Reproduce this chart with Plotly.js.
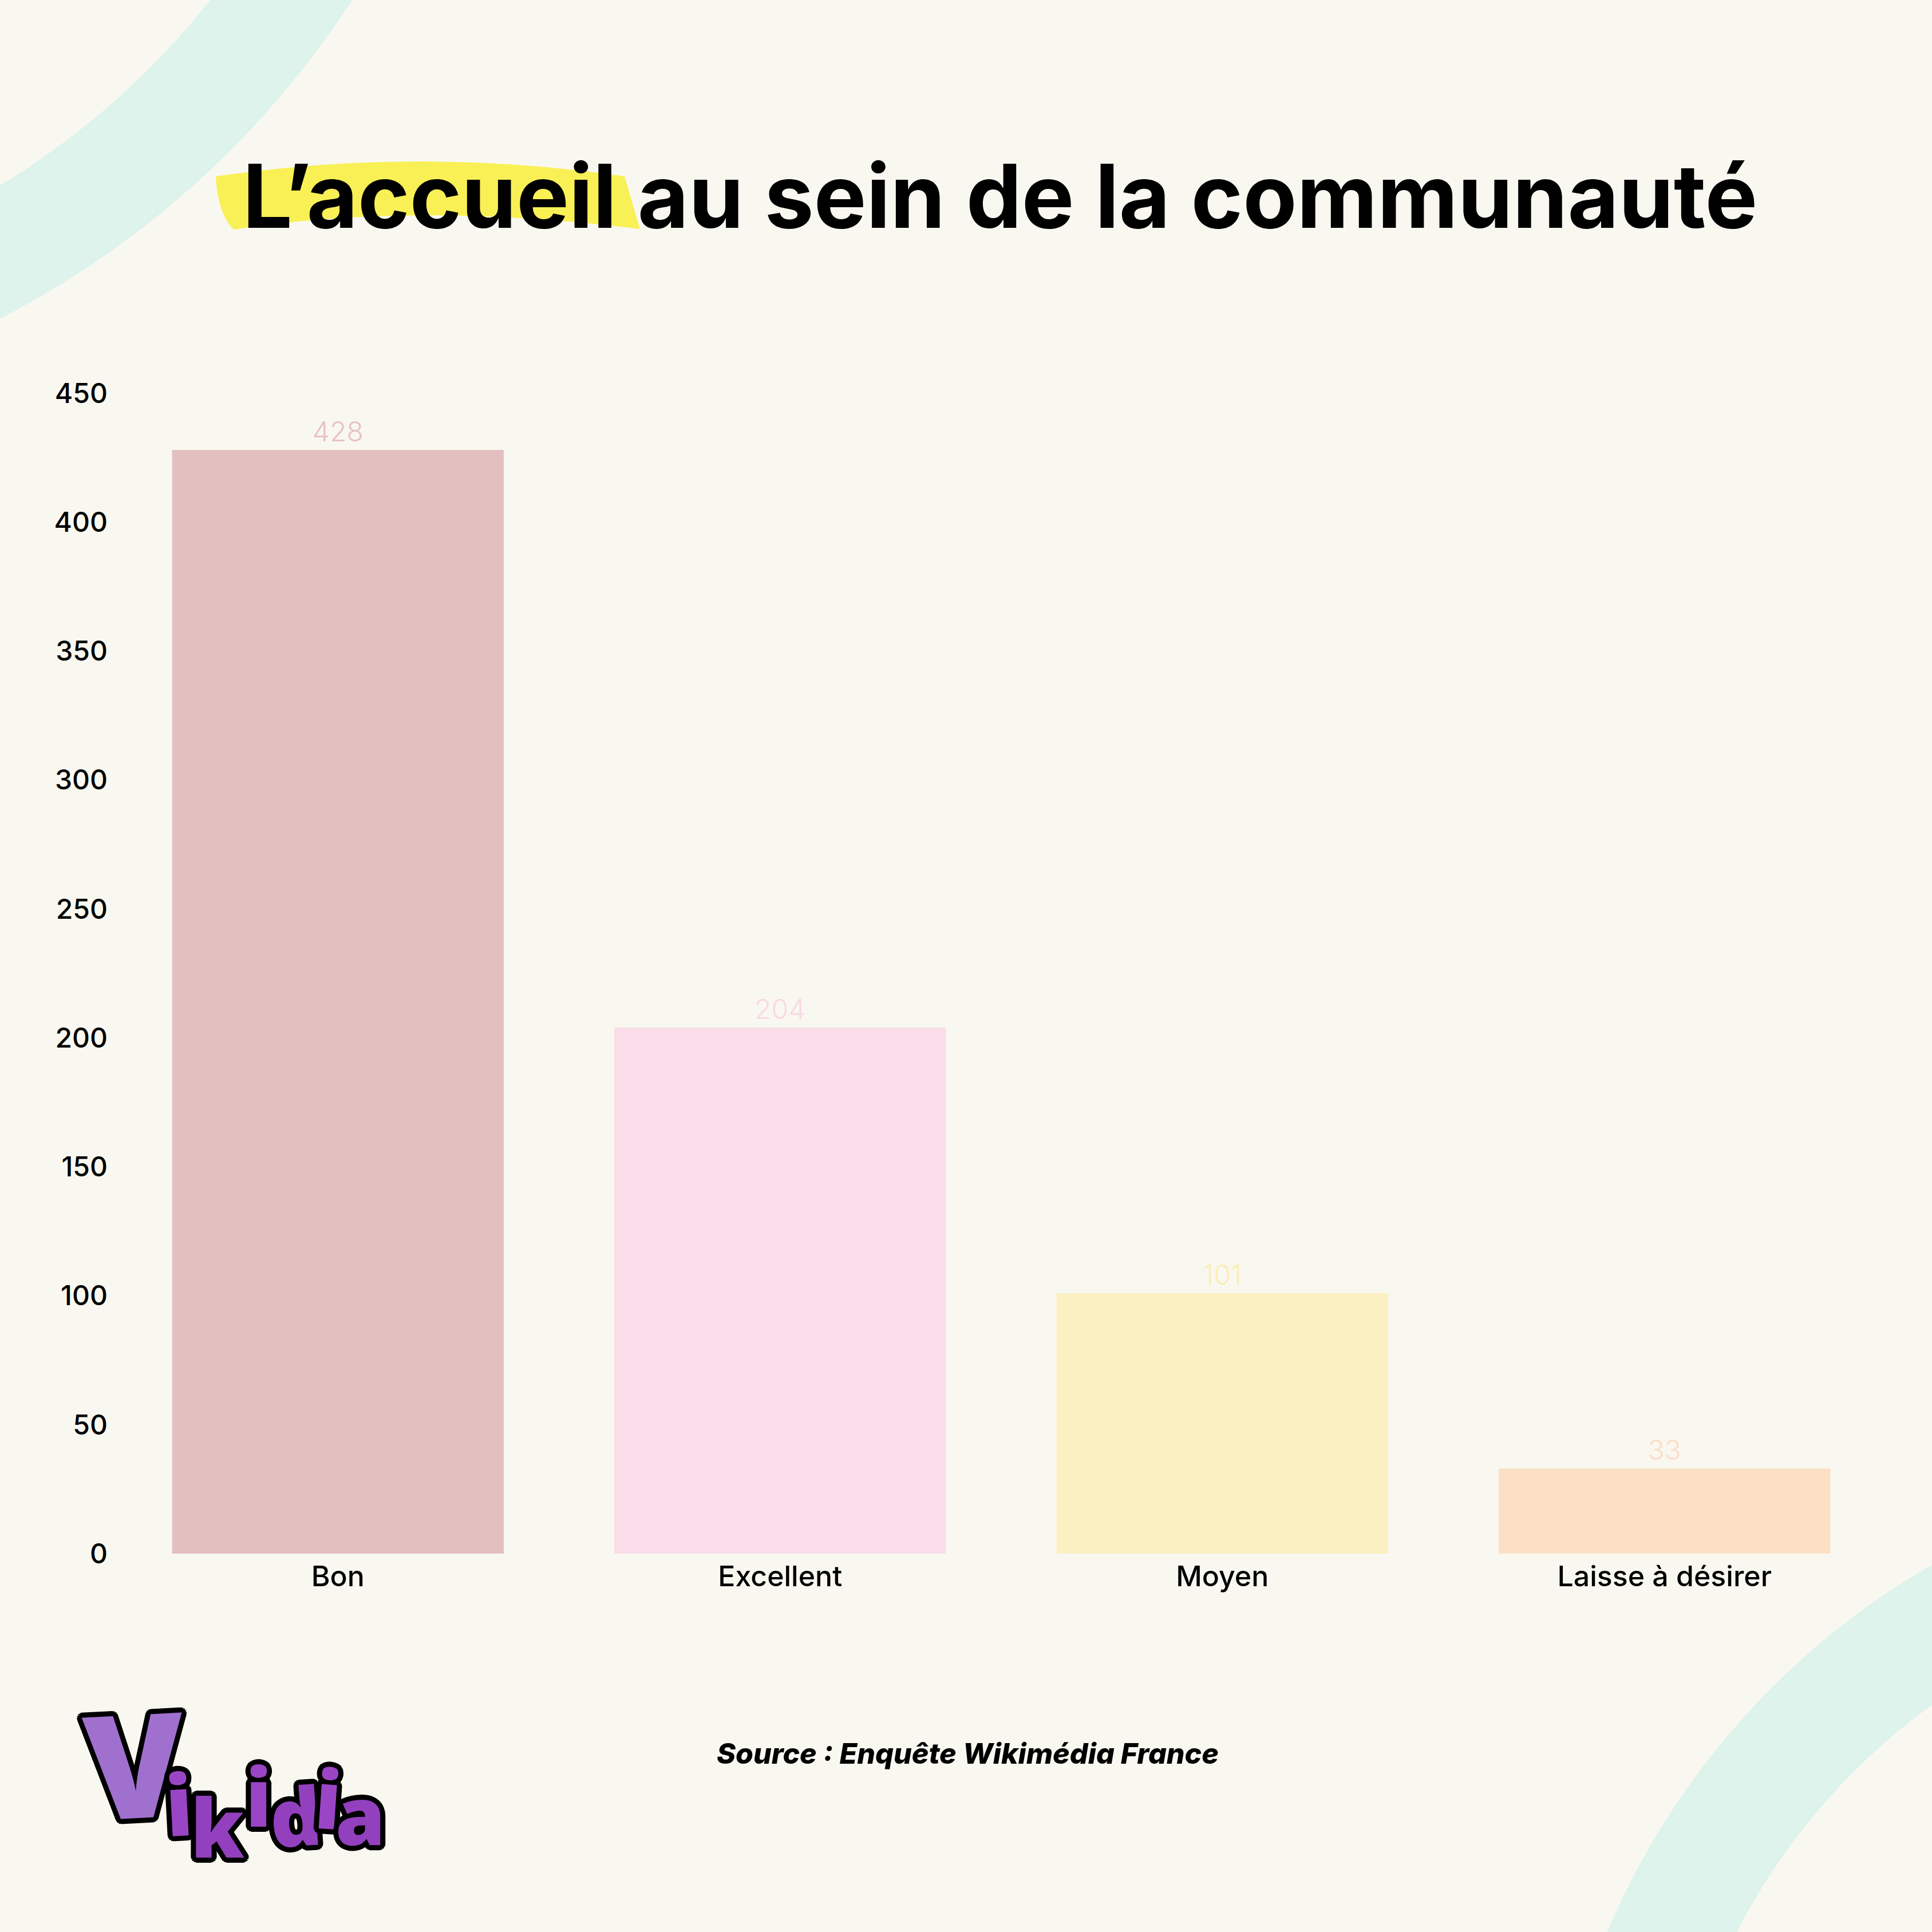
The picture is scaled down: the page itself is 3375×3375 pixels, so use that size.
<!DOCTYPE html>
<html>
<head>
<meta charset="utf-8">
<script src="https://cdn.plot.ly/plotly-3.0.1.min.js"></script>
<style>html,body{margin:0;padding:0;background:#F9F8F0;}</style>
</head>
<body>
<div id="chart" style="width:3375px;height:3375px;"></div>
<script>
// ---- data ----
const categories = ['Bon', 'Excellent', 'Moyen', 'Laisse à désirer'];
const counts = [428, 204, 101, 33];
const yTickValues = [0, 50, 100, 150, 200, 250, 300, 350, 400, 450];
const yTickLabels = ['0', '50', '100', '150', '200', '250', '300', '350', '400', '450'];
const titleText = 'L’accueil au sein de la communauté';
const sourceText = 'Source : Enquête Wikimédia France';
const logoLetters = ['V', 'i', 'k', 'i', 'd', 'i', 'a'];

// ---- style ----
const barColors = ['#E3BFBF', '#FADDE8', '#FBF0C1', '#FBE0C6'];
const labelColors = ['#E8C2C5', '#FAD8E4', '#FCEDB3', '#FCDDC6'];
const bg = '#F9F8F0';
const teal = '#DDF3EC';

const W = 3375, H = 3375, L = 204, R = 81, T = 687, B = 661;
const PW = W - L - R, PH = H - T - B;
const px2x = px => (px - L) / PW;
const py2y = py => (H - B - py) / PH;

function disc(cx, cy, r, color) {
  return {
    type: 'circle', xref: 'paper', yref: 'paper', layer: 'below',
    x0: px2x(cx - r), x1: px2x(cx + r), y0: py2y(cy + r), y1: py2y(cy - r),
    line: {width: 0}, fillcolor: color
  };
}

function pt(x, y) { return px2x(x).toFixed(5) + ',' + py2y(y).toFixed(5); }
const highlightPath = 'M' + pt(377, 308) + ' Q' + pt(734, 256) + ' ' + pt(1091, 308) +
  ' L' + pt(1118, 400) + ' Q' + pt(725, 352) + ' ' + pt(408, 401) +
  ' Q' + pt(380, 372) + ' ' + pt(377, 308) + ' Z';

const shapes = [
  disc(-740, -880, 1616, teal),
  disc(-719, -861, 1386, bg),
  disc(4044, 3897, 1342, teal),
  disc(4036, 3891, 1127, bg),
  {type: 'path', xref: 'paper', yref: 'paper', layer: 'below', path: highlightPath,
   fillcolor: '#F9F056', line: {width: 0}}
];

// logo letters (decoration)
const outline = (function () {
  const s = [];
  const d = 9;
  for (let a = 0; a < 360; a += 22.5) {
    const rad = a * Math.PI / 180;
    s.push((d * Math.cos(rad)).toFixed(1) + 'px ' + (d * Math.sin(rad)).toFixed(1) + 'px 0 #000');
  }
  return s.join(', ');
})();
const logoPos = [
  {x: 234, y: 3078, size: 252, ang: -3, c: '#A070CF'},
  {x: 312, y: 3150, size: 146, ang: -3, c: '#9A45C6'},
  {x: 380, y: 3190, size: 142, ang: 0, c: '#9240BE'},
  {x: 452, y: 3136, size: 140, ang: 0, c: '#9A45C6'},
  {x: 516, y: 3170, size: 140, ang: -4, c: '#9240BE'},
  {x: 574, y: 3140, size: 140, ang: 4, c: '#9A45C6'},
  {x: 629, y: 3168, size: 140, ang: 0, c: '#9240BE'}
];
const annotations = logoLetters.map((ch, i) => ({
  text: ch, xref: 'paper', yref: 'paper', showarrow: false,
  x: px2x(logoPos[i].x), y: py2y(logoPos[i].y), xanchor: 'center', yanchor: 'middle',
  textangle: logoPos[i].ang,
  font: {family: 'Open Sans, DejaVu Sans', size: logoPos[i].size, weight: 800, color: logoPos[i].c, shadow: outline}
}));
annotations.push({
  text: sourceText, xref: 'paper', yref: 'paper', showarrow: false,
  x: px2x(1690), y: py2y(3063), xanchor: 'center', yanchor: 'middle',
  font: {family: 'Inter, Open Sans, sans-serif', size: 50, weight: 800, style: 'italic', color: '#000'}
});

const trace = {
  type: 'bar',
  x: categories,
  y: counts,
  marker: {color: barColors, line: {width: 0}},
  text: counts.map(String),
  textposition: 'outside',
  cliponaxis: false,
  textfont: {family: 'Inter, sans-serif', size: 48, weight: 300, color: labelColors},
  hoverinfo: 'none'
};

const layout = {
  width: W, height: H,
  paper_bgcolor: bg, plot_bgcolor: 'rgba(0,0,0,0)',
  margin: {l: L, r: R, t: T, b: B, pad: 0},
  bargap: 0.25,
  showlegend: false,
  title: {
    text: titleText,
    font: {family: 'Inter, Open Sans, sans-serif', size: 154, weight: 700, color: '#000'},
    xref: 'container', yref: 'container', x: 1747 / W, xanchor: 'center',
    y: 1 - 344 / H, yanchor: 'middle'
  },
  xaxis: {
    type: 'category', showgrid: false, zeroline: false, showline: false, ticks: '',
    tickfont: {family: 'Inter, sans-serif', size: 50, weight: 500, color: '#000'},
    ticklabelstandoff: 6
  },
  yaxis: {
    range: [0, 450], showgrid: false, zeroline: false, showline: false, ticks: '',
    tickmode: 'array', tickvals: yTickValues, ticktext: yTickLabels,
    tickfont: {family: 'Inter, sans-serif', size: 48, weight: 500, color: '#000'},
    ticklabelstandoff: 15
  },
  shapes: shapes,
  annotations: annotations
};

Plotly.newPlot('chart', [trace], layout, {staticPlot: true, displayModeBar: false});
</script>
</body>
</html>
